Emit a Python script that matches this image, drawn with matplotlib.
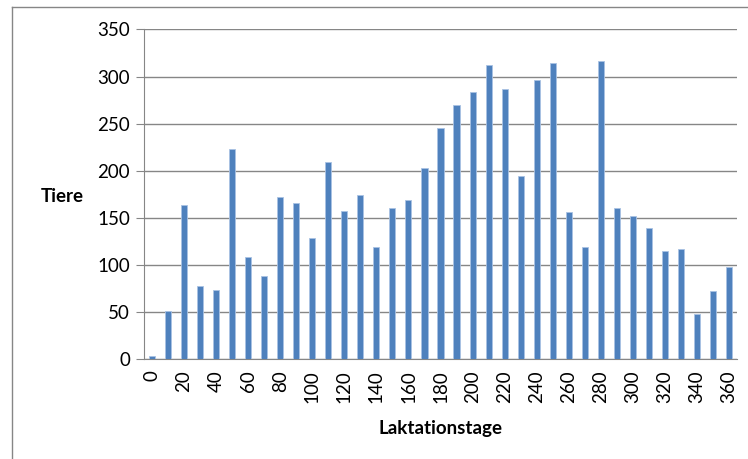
import numpy as np
from matplotlib import pyplot as plt
from matplotlib.lines import Line2D

# Data
days = list(range(0, 361, 10))
tiere = [4, 51, 164, 78, 73, 223, 109, 88, 172, 166,
         129, 209, 157, 174, 119, 161, 169, 203, 245, 270,
         284, 312, 287, 194, 296, 314, 156, 119, 316, 161,
         152, 139, 115, 117, 48, 72, 98]
tick_labels = [str(d) for d in days[::2]]

plt.rcParams['font.family'] = ['Lato', 'DejaVu Sans']

fig = plt.figure(figsize=(7.48, 4.59), dpi=100)
ax = fig.add_axes([0.1925, 0.2172, 0.7928, 0.7188])

pos = np.arange(len(days))
ax.bar(pos, tiere, width=0.38, color='#4F81BD', edgecolor='#A9C2E3', linewidth=0.6, zorder=3)

ax.set_xlim(-0.5, len(days) - 0.5)
ax.set_ylim(0, 350)
ax.set_yticks(range(0, 351, 50))
ax.set_xticks(pos[::2])
ax.set_xticklabels(tick_labels, rotation=90, fontsize=13.5)
ax.tick_params(axis='y', labelsize=13.5, length=6, color='#868686', pad=4)
ax.tick_params(axis='x', length=0, pad=8)

ax.yaxis.grid(True, color='#868686', linewidth=1.0, zorder=0)
for s in ['top', 'right']:
    ax.spines[s].set_visible(False)
ax.spines['left'].set_color('#868686')
ax.spines['bottom'].set_color('#868686')

ax.set_xlabel('Laktationstage', fontsize=13.5, fontweight='bold', labelpad=12)
fig.text(0.054, 0.571, 'Tiere', fontsize=13.5, fontweight='bold', ha='left', va='center')

# outer chart frame (cut off on the right and bottom)
fig.add_artist(Line2D([12 / 748, 12 / 748], [0, 1 - 7 / 459], transform=fig.transFigure,
                      color='#868686', linewidth=1))
fig.add_artist(Line2D([12 / 748, 1], [1 - 7 / 459, 1 - 7 / 459], transform=fig.transFigure,
                      color='#868686', linewidth=1))

fig.savefig('out.png', dpi=100)
